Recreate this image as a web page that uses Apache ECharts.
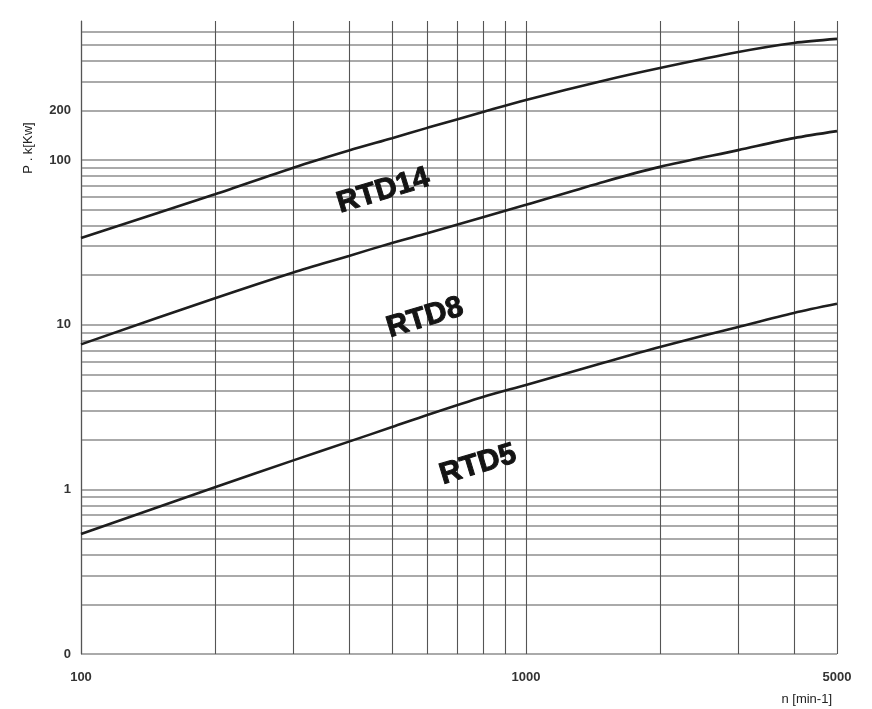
<!DOCTYPE html>
<html>
<head>
<meta charset="utf-8">
<script src="https://cdn.jsdelivr.net/npm/echarts@6/dist/echarts.min.js"></script>
<style>html,body{margin:0;padding:0;background:#fff}#c{width:872px;height:709px}</style>
</head>
<body>
<div id="c"></div>
<script>
// speed n [min-1]
const nValues = [100, 200, 300, 400, 500, 600, 800, 1000, 1500, 2000, 3000, 4000, 5000];
// power P.k [kW]
const rtd14 = [33.6, 62, 90, 114.5, 136, 157, 196, 232, 305, 363, 454, 515, 545];
const rtd8  = [7.6, 14.5, 20.8, 26.2, 31.4, 36, 45, 53.5, 74, 91, 115, 136, 150];
const rtd5  = [0.536, 1.03, 1.5, 1.95, 2.39, 2.83, 3.64, 4.31, 5.9, 7.33, 9.7, 11.8, 13.4];
const seriesNames = ['RTD14', 'RTD8', 'RTD5'];
// curve label anchors [n, P]
const labelAnchors = [[478, 65], [593, 11.0], [780, 1.41]];

// grid / tick values
const xGrid = [100, 200, 300, 400, 500, 600, 700, 800, 900, 1000, 2000, 3000, 4000, 5000];
const xTickValues = [100, 1000, 5000];
const xTickLabels = ['100', '1000', '5000'];
const yGrid = [0.1, 0.2, 0.3, 0.4, 0.5, 0.6, 0.7, 0.8, 0.9,
               1, 2, 3, 4, 5, 6, 7, 8, 9,
               10, 20, 30, 40, 50, 60, 70, 80, 90,
               100, 200, 300, 400, 500, 600];
const yTickValues = [0.1, 1, 10, 100, 200];
const yTickLabels = ['0', '1', '10', '100', '200'];

const FONT = 'Liberation Sans, Arial, sans-serif';
const chart = echarts.init(document.getElementById('c'), null, {renderer: 'canvas'});

const hLines = yGrid.map(v => {
  const i = yTickValues.indexOf(v);
  const item = {yAxis: v};
  if (i >= 0) item.label = {show: true, formatter: yTickLabels[i]};
  return item;
});
const vLines = xGrid.map(v => {
  const i = xTickValues.indexOf(v);
  const item = {xAxis: v};
  if (i >= 0) item.label = {show: true, formatter: xTickLabels[i]};
  return item;
});

const curves = [rtd14, rtd8, rtd5].map((vals, k) => ({
  name: seriesNames[k],
  type: 'line',
  data: nValues.map((n, i) => [n, vals[i]]),
  smooth: 0.3,
  symbol: 'none',
  z: 5,
  lineStyle: {color: '#1e1e1e', width: 2.6},
  markPoint: {
    symbol: 'circle', symbolSize: 1,
    itemStyle: {color: 'rgba(0,0,0,0)'},
    data: [{coord: labelAnchors[k], value: seriesNames[k]}],
    label: {
      show: true, position: 'inside', formatter: seriesNames[k], rotate: 17,
      fontFamily: FONT, fontWeight: 'bold', fontSize: 30, color: '#141414',
      textBorderColor: '#141414', textBorderWidth: 1
    },
    animation: false, silent: true
  }
}));

chart.setOption({
  animation: false,
  backgroundColor: '#fff',
  grid: {left: 81, right: 35, top: 21, bottom: 55, containLabel: false, outerBoundsMode: 'none'},
  xAxis: {
    type: 'log', logBase: 10, min: 100, max: 5000,
    axisLine: {show: false},
    axisTick: {show: false},
    axisLabel: {show: false},
    splitLine: {show: false}
  },
  yAxis: {
    type: 'log', logBase: 10, min: 0.1, max: 700,
    axisLine: {show: true, lineStyle: {color: '#444', width: 1.2}},
    axisTick: {show: false},
    axisLabel: {show: false},
    splitLine: {show: false}
  },
  series: [
    {
      type: 'line', data: [], z: 1, silent: true,
      markLine: {
        silent: true, symbol: 'none', animation: false,
        lineStyle: {type: 'solid', color: '#8e8e8e', width: 1.6},
        label: {show: false, position: 'start', distance: 10, fontFamily: FONT, fontSize: 13, fontWeight: 'bold', color: '#333'},
        data: hLines
      }
    },
    {
      type: 'line', data: [], z: 2, silent: true,
      markLine: {
        silent: true, symbol: 'none', animation: false,
        lineStyle: {type: 'solid', color: '#555', width: 1.1},
        label: {show: false, position: 'start', distance: 17, fontFamily: FONT, fontSize: 13, fontWeight: 'bold', color: '#333'},
        data: vLines
      }
    }
  ].concat(curves),
  graphic: [
    {
      type: 'text', x: 28, y: 148, rotation: Math.PI / 2,
      style: {text: 'P . k[Kw]', font: '13px ' + FONT, fill: '#222', textAlign: 'center', textVerticalAlign: 'middle'}
    },
    {
      type: 'text', x: 832, y: 699,
      style: {text: 'n [min-1]', font: '13px ' + FONT, fill: '#222', textAlign: 'right', textVerticalAlign: 'middle'}
    }
  ]
});
</script>
</body>
</html>
